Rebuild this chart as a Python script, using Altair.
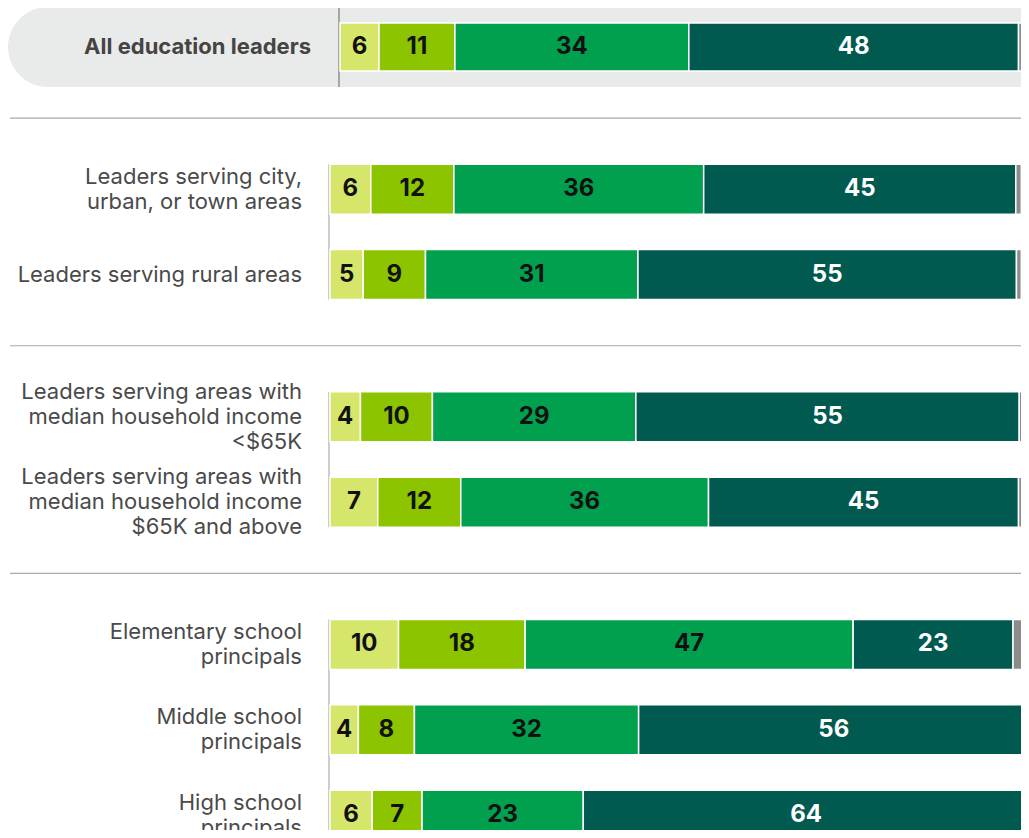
import altair as alt
import pandas as pd

# ---------------- data ----------------
rows = [
    "All education leaders",
    "Leaders serving city,\nurban, or town areas",
    "Leaders serving rural areas",
    "Leaders serving areas with\nmedian household income\n<$65K",
    "Leaders serving areas with\nmedian household income\n$65K and above",
    "Elementary school\nprincipals",
    "Middle school\nprincipals",
    "High school\nprincipals",
]
group_sizes = [1, 2, 2, 3]

responses = ["Response 1", "Response 2", "Response 3", "Response 4", "Not sure"]
colors = ["#d5e66b", "#8cc400", "#00a04f", "#005a50", "#8c8c8c"]

resp1 = [5.7, 5.9, 4.8, 4.4, 6.9, 9.9, 4.1, 6.1]
resp2 = [11.1, 12.0, 9.0, 10.4, 12.0, 18.3, 8.1, 7.2]
resp3 = [34.2, 36.1, 30.7, 29.4, 35.8, 47.4, 32.4, 23.3]
resp4 = [48.2, 45.1, 54.7, 55.4, 44.8, 23.1, 56.4, 64.4]
not_sure = [0.7, 0.8, 0.7, 0.9, 0.9, 2.0, 0.5, 0.5]

series = [resp1, resp2, resp3, resp4, not_sure]

records = []
for ri, r in enumerate(rows):
    for ci, (name, vals) in enumerate(zip(responses, series)):
        records.append({"row": r, "resp": name, "ci": ci, "value": vals[ri]})
df = pd.DataFrame(records)

# ---------------- layout of the row scale ----------------
ydomain = []
seps = []
k = 0
for g, size in enumerate(group_sizes):
    members = rows[k:k + size]
    k += size
    for j, r in enumerate(members):
        ydomain.append(r)
        if j < size - 1:
            ydomain += [f"_s{g}_{j}_a", f"_s{g}_{j}_b"]
    if g < len(group_sizes) - 1:
        gap = [f"_g{g}_{m}" for m in range(4)]
        ydomain += gap
        seps.append(gap[1])

STEP = 28.45
Y0 = 39 - STEP / 2
yscale = alt.Scale(domain=ydomain, range=[Y0, Y0 + STEP * len(ydomain)],
                   paddingInner=0, paddingOuter=0)

W = 691          # visible part of the plot (page is 1029 wide with 8px margins)
SCALE_W = 692    # pixels for 100 %
FONT = "Inter"
LINE_H = 25

color_scale = alt.Scale(domain=responses, range=colors)

top = rows[0]
top_df = df[df["row"] == top]
main_df = df[df["row"] != top]

def bars_and_text(data, xscale, bar_h):
    base = alt.Chart(data)
    bars = base.mark_bar(height=bar_h, stroke="white", strokeWidth=1.5).encode(
        x=alt.X("value:Q", stack="zero", scale=xscale, axis=None),
        y=alt.Y("row:N", scale=yscale, axis=None),
        color=alt.Color("resp:N", scale=color_scale, legend=None),
        order=alt.Order("ci:Q"),
    )
    text = base.transform_window(
        cum="sum(value)", groupby=["row"], sort=[alt.SortField("ci")],
        frame=[None, 0]
    ).transform_calculate(
        mid="datum.cum - datum.value / 2"
    ).transform_filter("datum.ci < 4").mark_text(
        font=FONT, fontSize=24, fontWeight="bold", baseline="middle", align="center"
    ).encode(
        x=alt.X("mid:Q", scale=xscale, axis=None),
        y=alt.Y("row:N", scale=yscale, axis=None),
        text=alt.Text("value:Q", format=".0f"),
        color=alt.condition("datum.ci == 3", alt.value("white"), alt.value("#111111")),
    )
    return alt.layer(bars, text)

# background pill for the first row
pill = alt.Chart(pd.DataFrame({"row": [top]})).mark_bar(
    height=80, color="#e9eaea", cornerRadiusTopLeft=40, cornerRadiusBottomLeft=40
).encode(
    x=alt.value(-322), x2=alt.value(W + 10),
    y=alt.Y("row:N", scale=yscale, axis=None),
)

top_axis = alt.Chart(pd.DataFrame({"row": [top]})).mark_rule(
    color="#7a7a7a", strokeWidth=1.2, yOffset=-40, y2Offset=40
).encode(
    x=alt.value(9),
    y=alt.Y("row:N", scale=yscale, axis=None),
    y2="row:N",
)

firsts, lasts = [], []
k = 0
for size in group_sizes:
    firsts.append(rows[k]); lasts.append(rows[k + size - 1]); k += size
axis_df = pd.DataFrame({"row": firsts[1:], "row2": lasts[1:]})
group_axes = alt.Chart(axis_df).mark_rule(
    color="#bdbdbd", strokeWidth=1.5, yOffset=-25, y2Offset=25
).encode(
    x=alt.value(-1),
    y=alt.Y("row:N", scale=yscale, axis=None),
    y2="row2:N",
)

separators = alt.Chart(pd.DataFrame({"row": seps})).mark_rule(
    color="#a8a8a8", strokeWidth=1.2
).encode(
    x=alt.value(-320), x2=alt.value(W + 10),
    y=alt.Y("row:N", scale=yscale, axis=None, bandPosition=1),
)

top_label = alt.Chart(pd.DataFrame({"row": [top]})).mark_text(
    font=FONT, fontSize=22, fontWeight="bold", align="right", baseline="middle",
    color="#444444"
).encode(
    x=alt.value(-19),
    y=alt.Y("row:N", scale=yscale, axis=None),
    text="row:N",
)

# row labels, one layer per number of lines so each block is centred on its bar
label_layers = []
n_lines = [r.count("\n") + 1 for r in rows[1:]]
for n in sorted(set(n_lines)):
    subset = [r for r, m in zip(rows[1:], n_lines) if m == n]
    label_layers.append(
        alt.Chart(pd.DataFrame({"row": subset})).mark_text(
            font=FONT, fontSize=22, align="right", baseline="middle",
            color="#4a4a4a", lineBreak="\n", lineHeight=LINE_H,
            dy=-(n - 1) * LINE_H / 2,
        ).encode(
            x=alt.value(-28),
            y=alt.Y("row:N", scale=yscale, axis=None),
            text="row:N",
        )
    )

top_bars = bars_and_text(top_df, alt.Scale(domain=[0, 100], range=[10, 694]), 48)
main_bars = bars_and_text(main_df, alt.Scale(domain=[0, 100], range=[0, SCALE_W]), 50)

chart = alt.layer(
    pill, separators, top_axis, group_axes, top_label, *label_layers,
    top_bars, main_bars,
).resolve_scale(x="independent").properties(
    width=W, height=822,
    autosize=alt.AutoSizeParams(type="none"),
    padding={"left": 322, "top": 0, "right": 0, "bottom": 0},
).configure_view(stroke=None)

chart.save("out.html", embed_options={"renderer": "svg", "actions": False})
